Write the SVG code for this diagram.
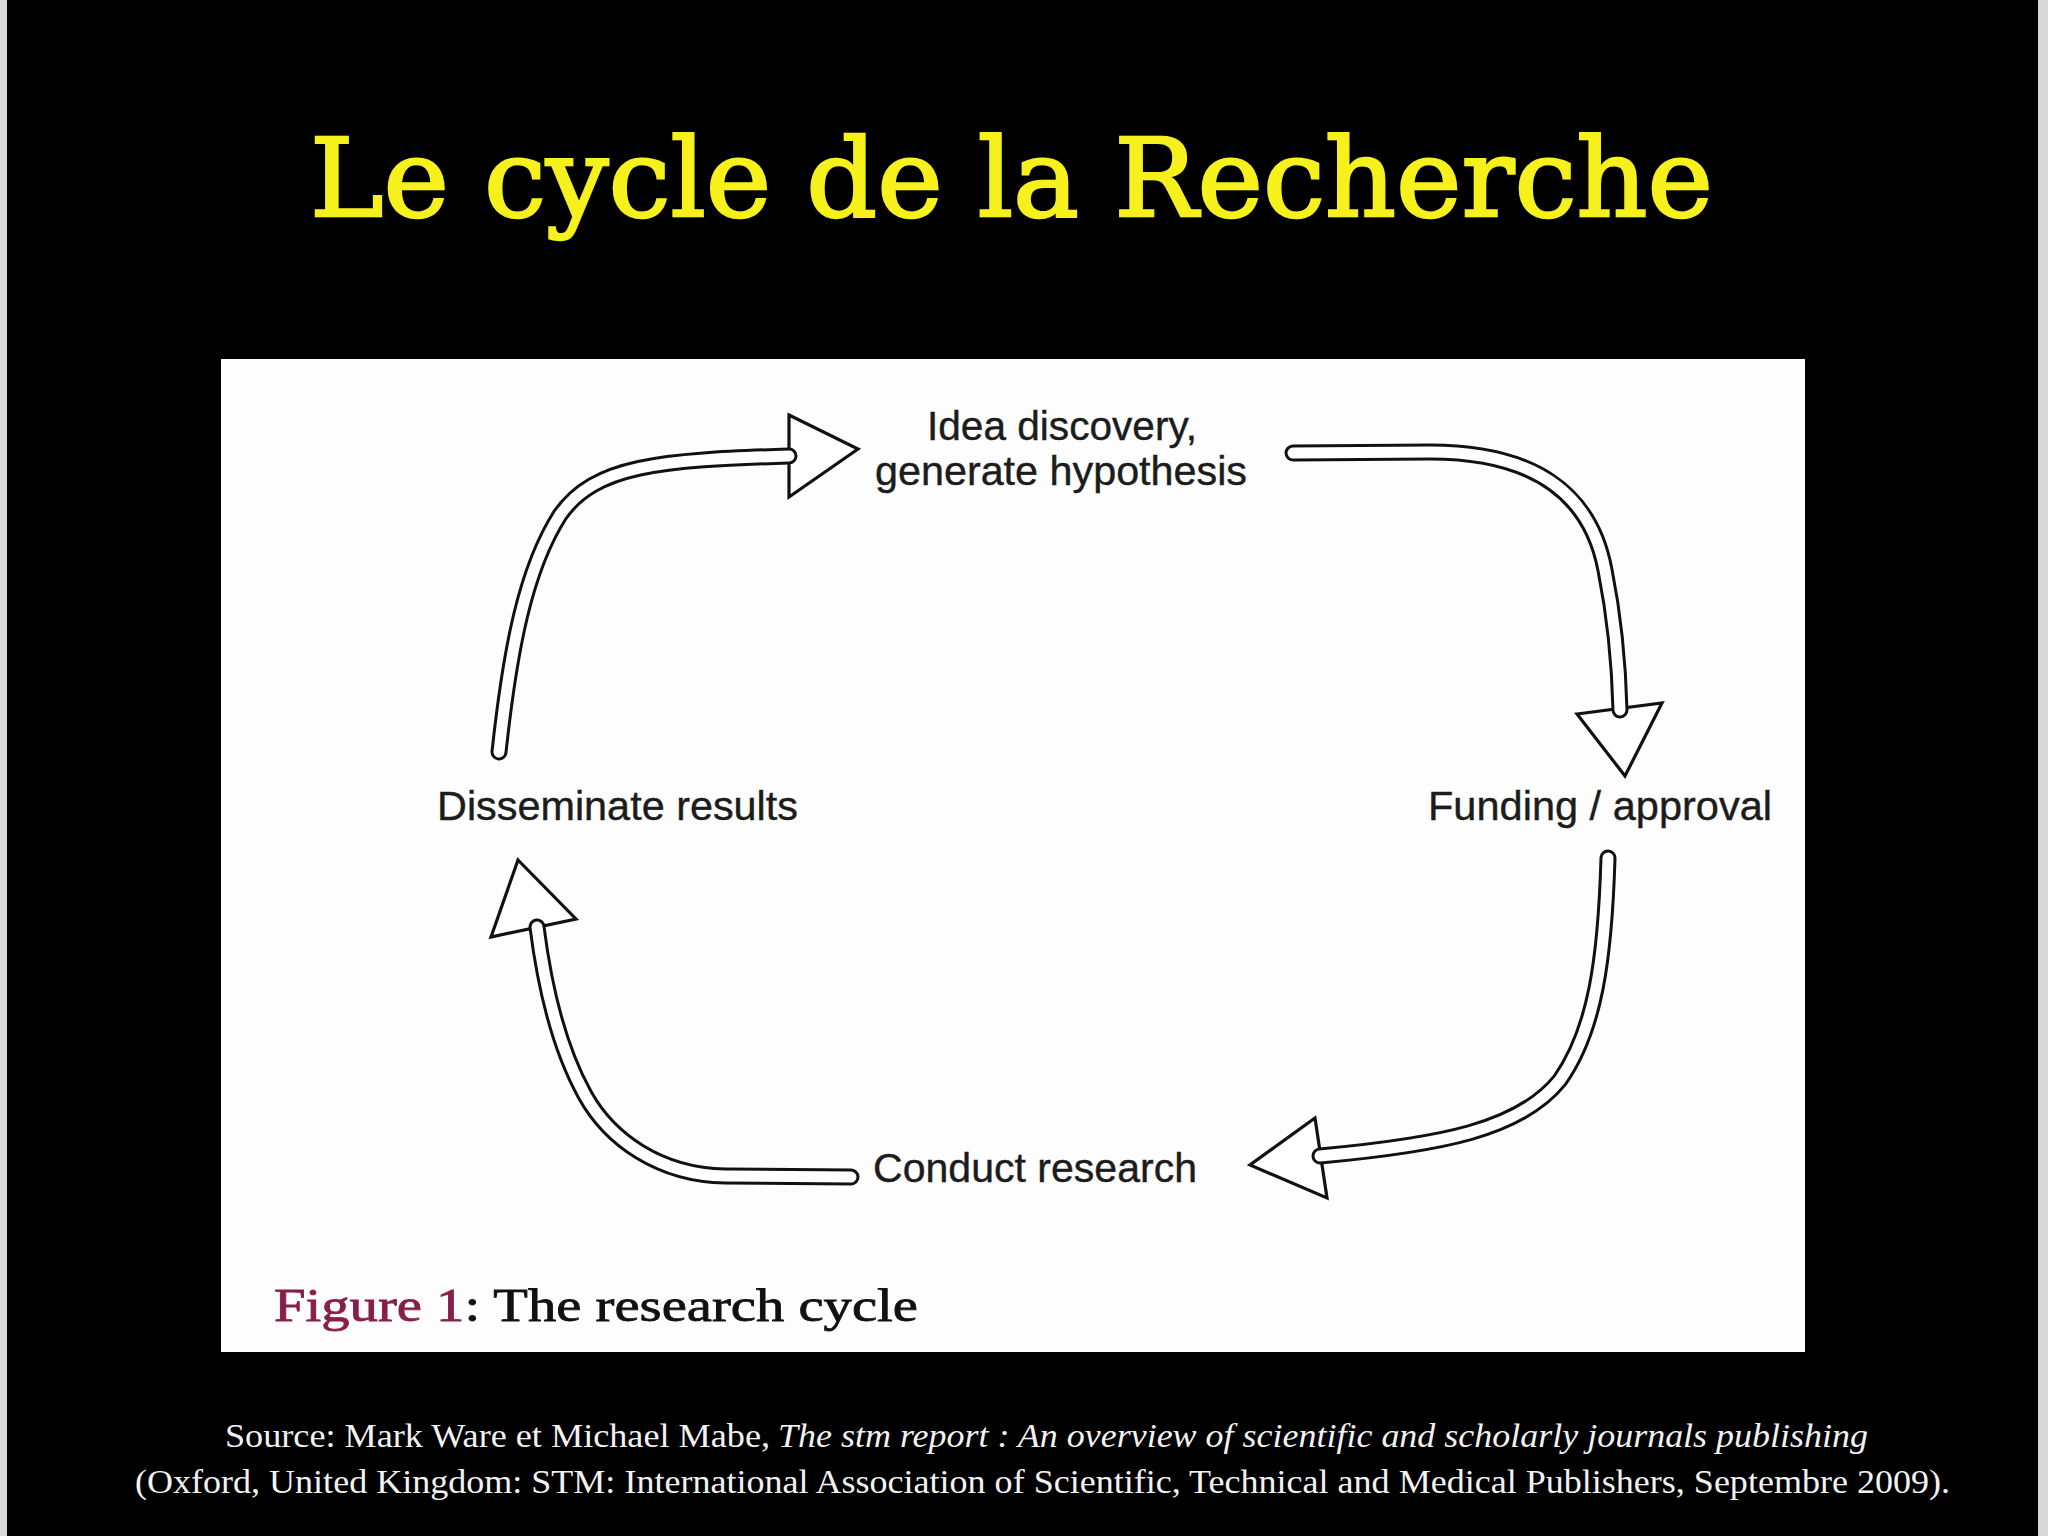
<svg xmlns="http://www.w3.org/2000/svg" xmlns:xlink="http://www.w3.org/1999/xlink" width="2048" height="1536" viewBox="0 0 2048 1536">
<style>
.tube-out{fill:none;stroke:#111;stroke-width:17;stroke-linecap:round;stroke-linejoin:round}
.tube-in{fill:none;stroke:#fff;stroke-width:11;stroke-linecap:round;stroke-linejoin:round}
.head{fill:#fff;stroke:#111;stroke-width:3.2;stroke-linejoin:miter}
.lbl{font-family:"Liberation Sans",Arial,sans-serif;font-size:41px;fill:#1c1c1c;stroke:#1c1c1c;stroke-width:0.4}
.src{font-family:"Liberation Serif","Times New Roman",serif;font-size:33px;fill:#f2f2f2}
</style>
<defs>
<path id="p1" d="M 499 752 C 510 650, 525 570, 560 515 C 595 465, 660 460, 789 456"/>
<path id="p2" d="M 1293 453 L 1430 452 C 1530 452, 1590 490, 1605 570 C 1615 620, 1619 670, 1620 710"/>
<path id="p3" d="M 1608 858 C 1605 960, 1595 1030, 1560 1080 C 1520 1130, 1440 1145, 1320 1156"/>
<path id="p4" d="M 851 1177 L 725 1176 C 660 1175, 610 1140, 585 1095 C 560 1050, 545 990, 537 927"/>
</defs>
<rect x="0" y="0" width="2048" height="1536" fill="#000"/>
<rect x="0" y="0" width="7" height="1536" fill="#d8d8d8"/>
<rect x="2038" y="0" width="10" height="1536" fill="#d8d8d8"/>
<g id="title">
<text x="310" y="216" textLength="1403" lengthAdjust="spacingAndGlyphs" font-family="'DejaVu Serif','Liberation Serif',serif" font-size="108" fill="#f6f01c" stroke="#f6f01c" stroke-width="2.5">Le cycle de la Recherche</text>
</g>
<rect id="panel" x="221" y="359" width="1584" height="993" fill="#fdfdfd"/>
<g id="connectors">
<polygon class="head" points="789,415 858,449 789,497"/>
<use xlink:href="#p1" class="tube-out"/>
<use xlink:href="#p1" class="tube-in"/>
<polygon class="head" points="1577,714 1662,703 1625,776"/>
<use xlink:href="#p2" class="tube-out"/>
<use xlink:href="#p2" class="tube-in"/>
<polygon class="head" points="1315,1118 1250,1165 1327,1198"/>
<use xlink:href="#p3" class="tube-out"/>
<use xlink:href="#p3" class="tube-in"/>
<polygon class="head" points="518,860 576,919 491,937"/>
<use xlink:href="#p4" class="tube-out"/>
<use xlink:href="#p4" class="tube-in"/>
</g>
<g id="node-idea">
<text class="lbl" x="927" y="440" textLength="270" lengthAdjust="spacingAndGlyphs">Idea discovery,</text>
<text class="lbl" x="875" y="485" textLength="372" lengthAdjust="spacingAndGlyphs">generate hypothesis</text>
</g>
<g id="node-funding">
<text class="lbl" x="1428" y="820" textLength="344" lengthAdjust="spacingAndGlyphs">Funding / approval</text>
</g>
<g id="node-conduct">
<text class="lbl" x="873" y="1182" textLength="324" lengthAdjust="spacingAndGlyphs">Conduct research</text>
</g>
<g id="node-disseminate">
<text class="lbl" x="437" y="820" textLength="361" lengthAdjust="spacingAndGlyphs">Disseminate results</text>
</g>
<g id="caption">
<text x="274" y="1321" font-family="'Liberation Serif','Times New Roman',serif" font-size="46" stroke-width="0.8" textLength="644" lengthAdjust="spacingAndGlyphs"><tspan fill="#85204c" stroke="#85204c">Figure 1</tspan><tspan fill="#111" stroke="#111">: The research cycle</tspan></text>
</g>
<g id="source">
<text class="src" x="225" y="1447" textLength="545" lengthAdjust="spacingAndGlyphs">Source: Mark Ware et Michael Mabe,</text>
<text class="src" x="778" y="1447" font-style="italic" textLength="1090" lengthAdjust="spacingAndGlyphs">The stm report : An overview of scientific and scholarly journals publishing</text>
<text class="src" x="135" y="1493" textLength="1815" lengthAdjust="spacingAndGlyphs">(Oxford, United Kingdom: STM: International Association of Scientific, Technical and Medical Publishers, Septembre 2009).</text>
</g>
</svg>
